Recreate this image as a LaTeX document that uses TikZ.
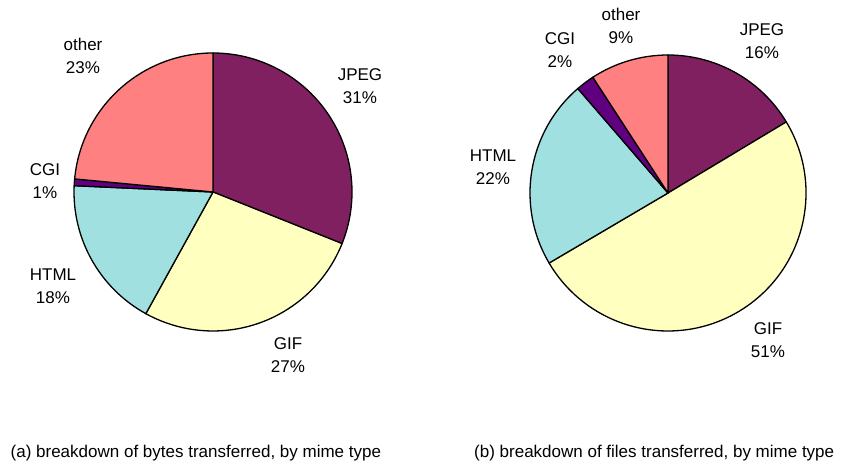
\documentclass[tikz,border=0pt]{standalone}
\usepackage{fontspec}
\setmainfont{Liberation Sans}
\begin{document}
\begin{tikzpicture}[x=1pt,y=1pt,
  wedge/.style={draw=black,line width=1.3pt,line join=round},
  lbl/.style={align=center,inner sep=0pt,font=\fontsize{17}{22.5}\selectfont},
  captiontext/.style={anchor=base west,inner sep=0pt,font=\fontsize{17}{20}\selectfont}]
\definecolor{jpegc}{RGB}{128,32,96}
\definecolor{gifc}{RGB}{255,255,192}
\definecolor{htmlc}{RGB}{160,224,224}
\definecolor{cgic}{RGB}{96,0,128}
\definecolor{otherc}{RGB}{255,128,128}
\useasboundingbox (0,0) rectangle (843,463);

% (a) bytes transferred
\coordinate (ca) at (213,271);
\def\ra{139}
\filldraw[wedge,fill=jpegc]  (ca) -- ++(90:\ra)     arc (90:-21.8:\ra)     -- cycle;
\filldraw[wedge,fill=gifc]   (ca) -- ++(-21.8:\ra)  arc (-21.8:-118.9:\ra) -- cycle;
\filldraw[wedge,fill=htmlc]  (ca) -- ++(-118.9:\ra) arc (-118.9:-182.6:\ra) -- cycle;
\filldraw[wedge,fill=cgic]   (ca) -- ++(-182.6:\ra) arc (-182.6:-185.4:\ra) -- cycle;
\filldraw[wedge,fill=otherc] (ca) -- ++(-185.4:\ra) arc (-185.4:-270:\ra)  -- cycle;

\node[lbl] (aother) at (83,407)  {other\\23\%};
\node[lbl] (ajpeg)  at (360,377) {JPEG\\31\%};
\node[lbl] (acgi)   at (45,282)  {CGI\\1\%};
\node[lbl] (ahtml)  at (53,177)  {HTML\\18\%};
\node[lbl] (agif)   at (288,108) {GIF\\27\%};

% (b) files transferred
\coordinate (cb) at (668,270);
\def\rb{138}
\filldraw[wedge,fill=jpegc]  (cb) -- ++(90:\rb)     arc (90:31:\rb)         -- cycle;
\filldraw[wedge,fill=gifc]   (cb) -- ++(31:\rb)     arc (31:-149.5:\rb)     -- cycle;
\filldraw[wedge,fill=htmlc]  (cb) -- ++(-149.5:\rb) arc (-149.5:-229.2:\rb) -- cycle;
\filldraw[wedge,fill=cgic]   (cb) -- ++(-229.2:\rb) arc (-229.2:-237:\rb)   -- cycle;
\filldraw[wedge,fill=otherc] (cb) -- ++(-237:\rb)   arc (-237:-270:\rb)     -- cycle;

\node[lbl] (bother) at (621,437) {other\\9\%};
\node[lbl] (bcgi)   at (560,413) {CGI\\2\%};
\node[lbl] (bjpeg)  at (762,422) {JPEG\\16\%};
\node[lbl] (bhtml)  at (493,296) {HTML\\22\%};
\node[lbl] (bgif)   at (768,123) {GIF\\51\%};

% captions
\node[captiontext] (capa) at (10.5,5.5) {(a) breakdown of bytes transferred, by mime type};
\node[captiontext] (capb) at (474,5.5)  {(b) breakdown of files transferred, by mime type};
\end{tikzpicture}
\end{document}
